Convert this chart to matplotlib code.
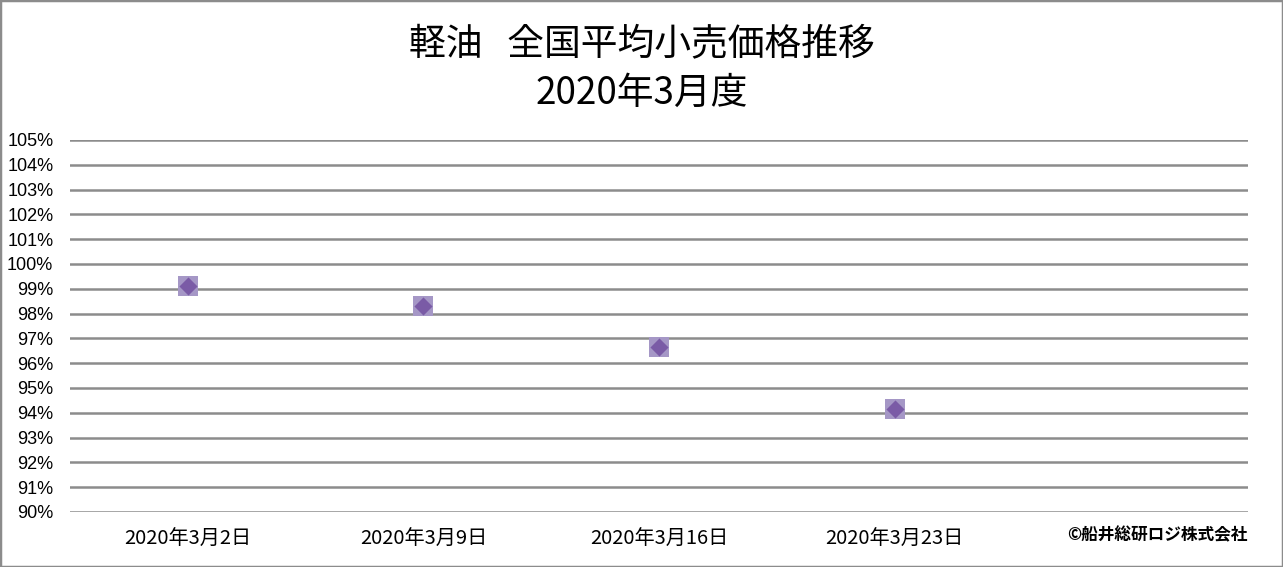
import matplotlib
matplotlib.use("Agg")
import matplotlib.pyplot as plt
from matplotlib.patches import Rectangle

plt.rcParams['font.family'] = ['Noto Sans CJK JP', 'DejaVu Sans']

categories = ["2020年3月2日", "2020年3月9日", "2020年3月16日", "2020年3月23日", ""]
values = [99.12, 98.32, 96.66, 94.15]
yticks = list(range(90, 106))
ytick_labels = [f"{v}%" for v in yticks]
title_line1 = "軽油   全国平均小売価格推移"
title_line2 = "2020年3月度"
credit = "©船井総研ロジ株式会社"

W, H = 1283, 567
fig = plt.figure(figsize=(W / 100, H / 100), dpi=100)
ax = fig.add_axes([70 / W, 1 - 512 / H, (1248 - 70) / W, (512 - 140) / H])

x = list(range(len(values)))
ax.scatter(x, values, marker='s', s=210, color='#a597c6', zorder=3, linewidths=0)
ax.scatter(x, values, marker='D', s=85, color='#7a5ba6', zorder=4, linewidths=0)

ax.set_xlim(-0.5, len(categories) - 0.5)
ax.set_ylim(90, 105)
ax.set_yticks(yticks)
ax.set_yticklabels(ytick_labels, fontsize=13, family=['Liberation Sans', 'DejaVu Sans'])
ax.set_xticks(range(len(categories)))
ax.set_xticklabels(categories, fontsize=14.5)
ax.tick_params(axis='both', length=0, colors='black')
ax.tick_params(axis='y', pad=12)
ax.tick_params(axis='x', pad=12)
ax.grid(axis='y', color='#8c8c8c', linewidth=1.8)
for s in ax.spines.values():
    s.set_visible(False)
ax.set_axisbelow(True)

fig.text(0.5, 1 - 44 / H, title_line1, ha='center', va='center', fontsize=26.5)
fig.text(0.5, 1 - 93 / H, title_line2, ha='center', va='center', fontsize=26.5)
fig.text(1248 / W, 1 - 535 / H, credit, ha='right', va='center', fontsize=12, fontweight='bold')

fig.add_artist(Rectangle((0, 0), 1, 1, transform=fig.transFigure, fill=False,
                         edgecolor='#8c8c8c', linewidth=2.5))
fig.savefig("out.png", dpi=100)
